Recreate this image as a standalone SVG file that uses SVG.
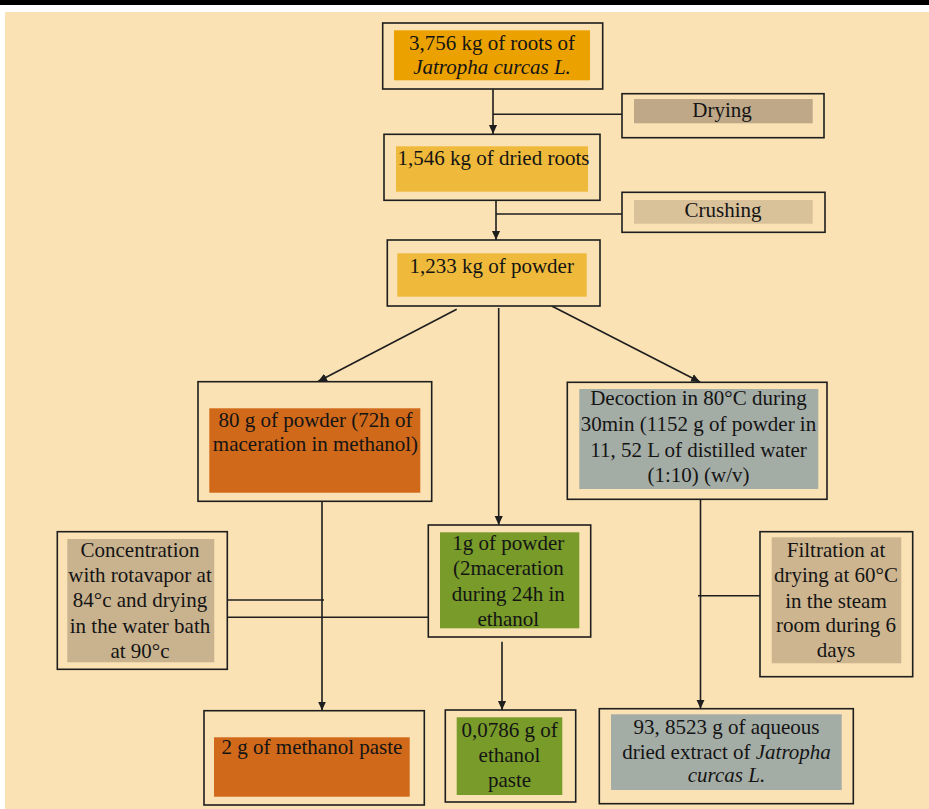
<svg xmlns="http://www.w3.org/2000/svg" width="929" height="809" viewBox="0 0 929 809">
<defs>
<style>
.bg{fill:#FAE2B5}
.box{fill:#FAE2B5;stroke:#1e1e1e;stroke-width:1.6}
.t{font-family:"Liberation Serif","Times New Roman",serif;font-size:21px;fill:#141414;text-anchor:middle}
.i{font-style:italic}
.c{stroke:#1e1e1e;stroke-width:1.6;fill:none}
.a{marker-end:url(#arr)}
</style>
<marker id="arr" viewBox="0 0 10 10" refX="10" refY="5" markerWidth="9" markerHeight="9" markerUnits="userSpaceOnUse" orient="auto">
<path d="M0,0.5 L10,5 L0,9.5 z" fill="#1e1e1e"/>
</marker>
</defs>
<rect x="0" y="0" width="929" height="809" fill="#ffffff"/>
<rect x="0" y="0" width="929" height="5" fill="#000000"/>
<rect class="bg" x="5" y="12" width="924" height="797"/>

<g id="connectors">
<line class="c a" x1="493" y1="89" x2="493" y2="134"/>
<line class="c" x1="493" y1="114.3" x2="622" y2="114.3"/>
<line class="c a" x1="496" y1="200" x2="496" y2="240"/>
<line class="c" x1="496" y1="214" x2="622" y2="214"/>
<line class="c a" x1="456.7" y1="309.3" x2="318" y2="381.5"/>
<line class="c a" x1="498.7" y1="308" x2="498.7" y2="525"/>
<line class="c a" x1="551.7" y1="306" x2="700" y2="382"/>
<line class="c a" x1="322" y1="501" x2="322" y2="710.5"/>
<line class="c" x1="227.3" y1="600" x2="324" y2="600"/>
<line class="c" x1="227.3" y1="617.3" x2="430.7" y2="617.3"/>
<line class="c a" x1="502" y1="641.7" x2="502" y2="710"/>
<line class="c a" x1="700.5" y1="499" x2="700.5" y2="708.7"/>
<line class="c" x1="698" y1="595.7" x2="760" y2="595.7"/>
</g>

<g id="roots">
<rect class="box" x="382.7" y="23" width="220" height="66"/>
<rect x="394" y="30.3" width="196" height="50" fill="#EBA200"/>
<text class="t" x="492" y="50">3,756 kg of roots of</text>
<text class="t i" x="492" y="74.3">Jatropha curcas L.</text>
</g>

<g id="drying">
<rect class="box" x="622" y="93.7" width="202" height="44"/>
<rect x="634" y="99" width="178.7" height="24.3" fill="#BEA888"/>
<text class="t" x="722" y="116.7">Drying</text>
</g>

<g id="dried-roots">
<rect class="box" x="384" y="134.3" width="216" height="66"/>
<rect x="396" y="146.3" width="192" height="45.4" fill="#EFBA3B"/>
<text class="t" x="493.5" y="165">1,546 kg of dried roots</text>
</g>

<g id="crushing">
<rect class="box" x="622" y="192.3" width="203" height="40"/>
<rect x="634" y="200" width="178.7" height="23.7" fill="#D9C19A"/>
<text class="t" x="723" y="217">Crushing</text>
</g>

<g id="powder">
<rect class="box" x="387.3" y="240" width="212.7" height="66"/>
<rect x="397.3" y="253.3" width="189.4" height="43.4" fill="#EFBA3B"/>
<text class="t" x="491.7" y="272.7">1,233 kg of powder</text>
</g>

<g id="methanol-maceration">
<rect class="box" x="198" y="381.7" width="233.7" height="119.6"/>
<rect x="209.3" y="408.3" width="211" height="84.4" fill="#D0691A"/>
<text class="t" x="315.5" y="426.7">80 g of powder (72h of</text>
<text class="t" x="315.5" y="450.7">maceration in methanol)</text>
</g>

<g id="decoction">
<rect class="box" x="567.3" y="382.3" width="259.7" height="117"/>
<rect x="579.3" y="389" width="239" height="100" fill="#A4ACA6"/>
<text class="t" x="698.5" y="405">Decoction in 80°C during</text>
<text class="t" x="698.5" y="431">30min (1152 g of powder in</text>
<text class="t" x="698.5" y="457.3">11, 52 L of distilled water</text>
<text class="t" x="698.5" y="481.7">(1:10) (w/v)</text>
</g>

<g id="concentration">
<rect class="box" x="57.3" y="531.7" width="170" height="137.6"/>
<rect x="67.3" y="539" width="147" height="123.3" fill="#C9B38F"/>
<text class="t" x="140" y="557.3">Concentration</text>
<text class="t" x="140" y="581.7">with rotavapor at</text>
<text class="t" x="140" y="607.3">84°c and drying</text>
<text class="t" x="140" y="632.7">in the water bath</text>
<text class="t" x="140" y="657.7">at 90°c</text>
</g>

<g id="ethanol-maceration">
<rect class="box" x="428.3" y="525" width="162.4" height="112"/>
<rect x="440" y="532.3" width="139.3" height="96" fill="#789B2A"/>
<text class="t" x="508.3" y="550">1g of powder</text>
<text class="t" x="508.3" y="575">(2maceration</text>
<text class="t" x="508.3" y="600.7">during 24h in</text>
<text class="t" x="508.3" y="626">ethanol</text>
</g>

<g id="filtration">
<rect class="box" x="760" y="531.7" width="152.7" height="145"/>
<rect x="771.7" y="537.3" width="129.6" height="126" fill="#CDB590"/>
<text class="t" x="836" y="556.7">Filtration at</text>
<text class="t" x="836" y="581.7">drying at 60°C</text>
<text class="t" x="836" y="608.3">in the steam</text>
<text class="t" x="836" y="632.3">room during 6</text>
<text class="t" x="836" y="656.7">days</text>
</g>

<g id="methanol-paste">
<rect class="box" x="204" y="710.7" width="220.3" height="94.3"/>
<rect x="214" y="737.3" width="195.7" height="59.4" fill="#D0691A"/>
<text class="t" x="312" y="754">2 g of methanol paste</text>
</g>

<g id="ethanol-paste">
<rect class="box" x="445.3" y="710" width="130.4" height="92"/>
<rect x="456.7" y="717.3" width="105.6" height="77.7" fill="#789B2A"/>
<text class="t" x="509.5" y="736.7">0,0786 g of</text>
<text class="t" x="509.5" y="761.7">ethanol</text>
<text class="t" x="509.5" y="786.7">paste</text>
</g>

<g id="aqueous-extract">
<rect class="box" x="599.3" y="708.7" width="254" height="95"/>
<rect x="611" y="714.3" width="230.7" height="75.7" fill="#A4ACA6"/>
<text class="t" x="726.5" y="734">93, 8523 g of aqueous</text>
<text class="t" x="726.5" y="759">dried extract of <tspan class="i">Jatropha</tspan></text>
<text class="t i" x="726.5" y="781.7">curcas L.</text>
</g>
</svg>
